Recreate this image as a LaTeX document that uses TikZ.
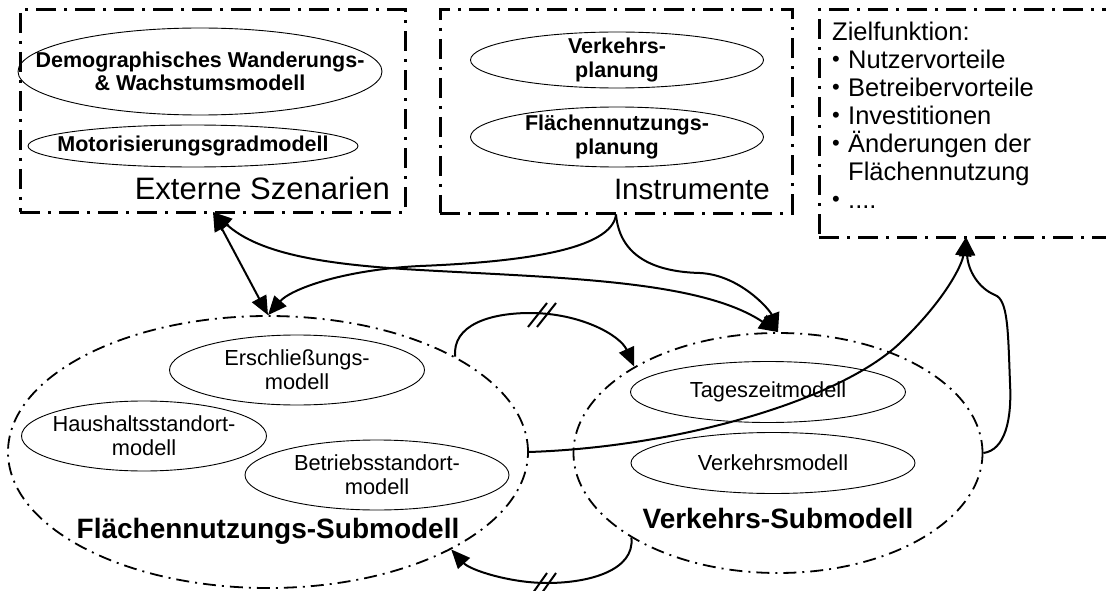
\documentclass[tikz,border=0pt]{standalone}
\usepackage{fontspec}
\setmainfont{Liberation Sans}
\usetikzlibrary{shapes.geometric,arrows.meta}
\newcommand{\zbul}{\makebox[16pt][l]{\raisebox{2pt}{\fontsize{22}{22}\selectfont•}}}
\begin{document}
\begin{tikzpicture}[x=1pt,y=-1pt,
  boxed/.style={draw, line width=3pt, dash pattern=on 20pt off 8pt on 3pt off 8pt, inner sep=0},
  subell/.style={draw, ellipse, line width=1.8pt, dash pattern=on 13pt off 6pt on 2pt off 6pt, inner sep=0},
  inell/.style={draw, ellipse, line width=0.9pt, inner sep=0},
  btxt/.style={font=\fontsize{21.5}{23.5}\selectfont\bfseries, align=center, inner sep=0},
  rtxt/.style={font=\fontsize{21.8}{24}\selectfont, align=center, inner sep=0},
  sublbl/.style={font=\fontsize{28}{30}\selectfont\bfseries, inner sep=0},
  conn/.style={line width=2pt, -{Triangle[length=19pt,width=16pt]}},
  dconn/.style={line width=2pt, {Triangle[length=19pt,width=16pt]}-{Triangle[length=19pt,width=16pt]}},
  plain/.style={line width=2pt}
]
\useasboundingbox (0,0) rectangle (1106,591);
\clip (0,0) rectangle (1106,591);

% top boxes
\node[boxed, minimum width=385pt, minimum height=202pt] (ext) at (212.5,111) {};
\node[boxed, minimum width=352pt, minimum height=203pt] (inst) at (616,111.5) {};
\node[boxed, minimum width=311pt, minimum height=227pt] (ziel) at (974.5,123.5) {};

% inside Externe Szenarien
\node[inell, minimum width=364pt, minimum height=87pt,
      label={[btxt]center:Demographisches Wanderungs-\\\& Wachstumsmodell}] (demo) at (200,71.5) {};
\node[inell, minimum width=330pt, minimum height=42pt,
      label={[btxt]center:Motorisierungsgradmodell}] (motor) at (193,146) {};
\node[font=\fontsize{31}{33}\selectfont, inner sep=0, anchor=base east] (extlbl) at (390,200) {Externe Szenarien};

% inside Instrumente
\node[inell, minimum width=293pt, minimum height=56pt,
      label={[btxt]center:Verkehrs-\\planung}] (vplan) at (617,60) {};
\node[inell, minimum width=293pt, minimum height=60pt,
      label={[btxt]center:Flächennutzungs-\\planung}] (fplan) at (617,137) {};
\node[font=\fontsize{29.5}{32}\selectfont, inner sep=0, anchor=base east] (instlbl) at (770,200) {Instrumente};

% Zielfunktion
\node[anchor=north west, inner sep=0, align=left, font=\fontsize{25.5}{28}\selectfont] (zieltxt) at (832,22)
  {Zielfunktion:\\
   \zbul Nutzervorteile\\
   \zbul Betreibervorteile\\
   \zbul Investitionen\\
   \zbul Änderungen der\\
   \makebox[16pt][l]{}Flächennutzung\\
   \zbul ....};

% Flächennutzungs-Submodell
\node[subell, minimum width=520pt, minimum height=272pt] (FN) at (268,452) {};
\node[inell, minimum width=255pt, minimum height=70pt,
      label={[rtxt]center:Erschließungs-\\modell}] (ersch) at (297,370) {};
\node[inell, minimum width=245pt, minimum height=70pt,
      label={[rtxt]center:Haushaltsstandort-\\modell}] (haus) at (144,436) {};
\node[inell, minimum width=264pt, minimum height=70pt,
      label={[rtxt]center:Betriebsstandort-\\modell}] (betr) at (377,475) {};
\node[sublbl] (fnlbl) at (268,531) {Flächennutzungs-Submodell};

% Verkehrs-Submodell
\node[subell, minimum width=409pt, minimum height=240pt] (VS) at (778,453) {};
\node[inell, minimum width=275pt, minimum height=61pt,
      label={[rtxt]center:Tageszeitmodell}] (tages) at (768,392) {};
\node[inell, minimum width=284pt, minimum height=61pt,
      label={[rtxt]center:Verkehrsmodell}] (vmod) at (773,463) {};
\node[sublbl] (vslbl) at (778,518) {Verkehrs-Submodell};

% connector end points
\coordinate (ea) at (213,212);
\coordinate (zt) at (966,237);

% connectors from the top boxes
\draw[dconn] (ea) -- (FN.north);
\draw[dconn] (ea) .. controls (260,255) and (330,265) .. (420,270)
                  .. controls (560,278) and (700,280) .. (VS.north);
\draw[conn] (inst.south) .. controls (612,250) and (520,262) .. (420,266)
                  .. controls (340,270) and (290,290) .. (FN.north);
\draw[conn] (inst.south) .. controls (620,260) and (660,272) .. (700,273)
                  .. controls (740,275) and (770,310) .. (VS.north);

% feedback loops between submodels
\draw[conn] (FN.27) .. controls (452,325) and (490,313) .. (530,313)
                  .. controls (580,313) and (620,335) .. (VS.149.3);
\draw[plain] (528,327) -- (547,303) (537,327) -- (556,303);
\draw[conn] (VS.210.7) .. controls (635,570) and (590,583) .. (547,583)
                  .. controls (510,583) and (470,570) .. (FN.332.2);
\draw[plain] (530,597) -- (547,573) (539,597) -- (556,573);

% to Zielfunktion
\draw[conn] (FN.east) .. controls (680,447) and (840,400) .. (900,343)
                  .. controls (945,300) and (962,265) .. (zt);
\draw[conn] (VS.east) .. controls (1005,450) and (1012,420) .. (1010,383)
                  .. controls (1008,330) and (1008,300) .. (995,295)
                  .. controls (978,288) and (968,270) .. (zt);
\end{tikzpicture}
\end{document}
